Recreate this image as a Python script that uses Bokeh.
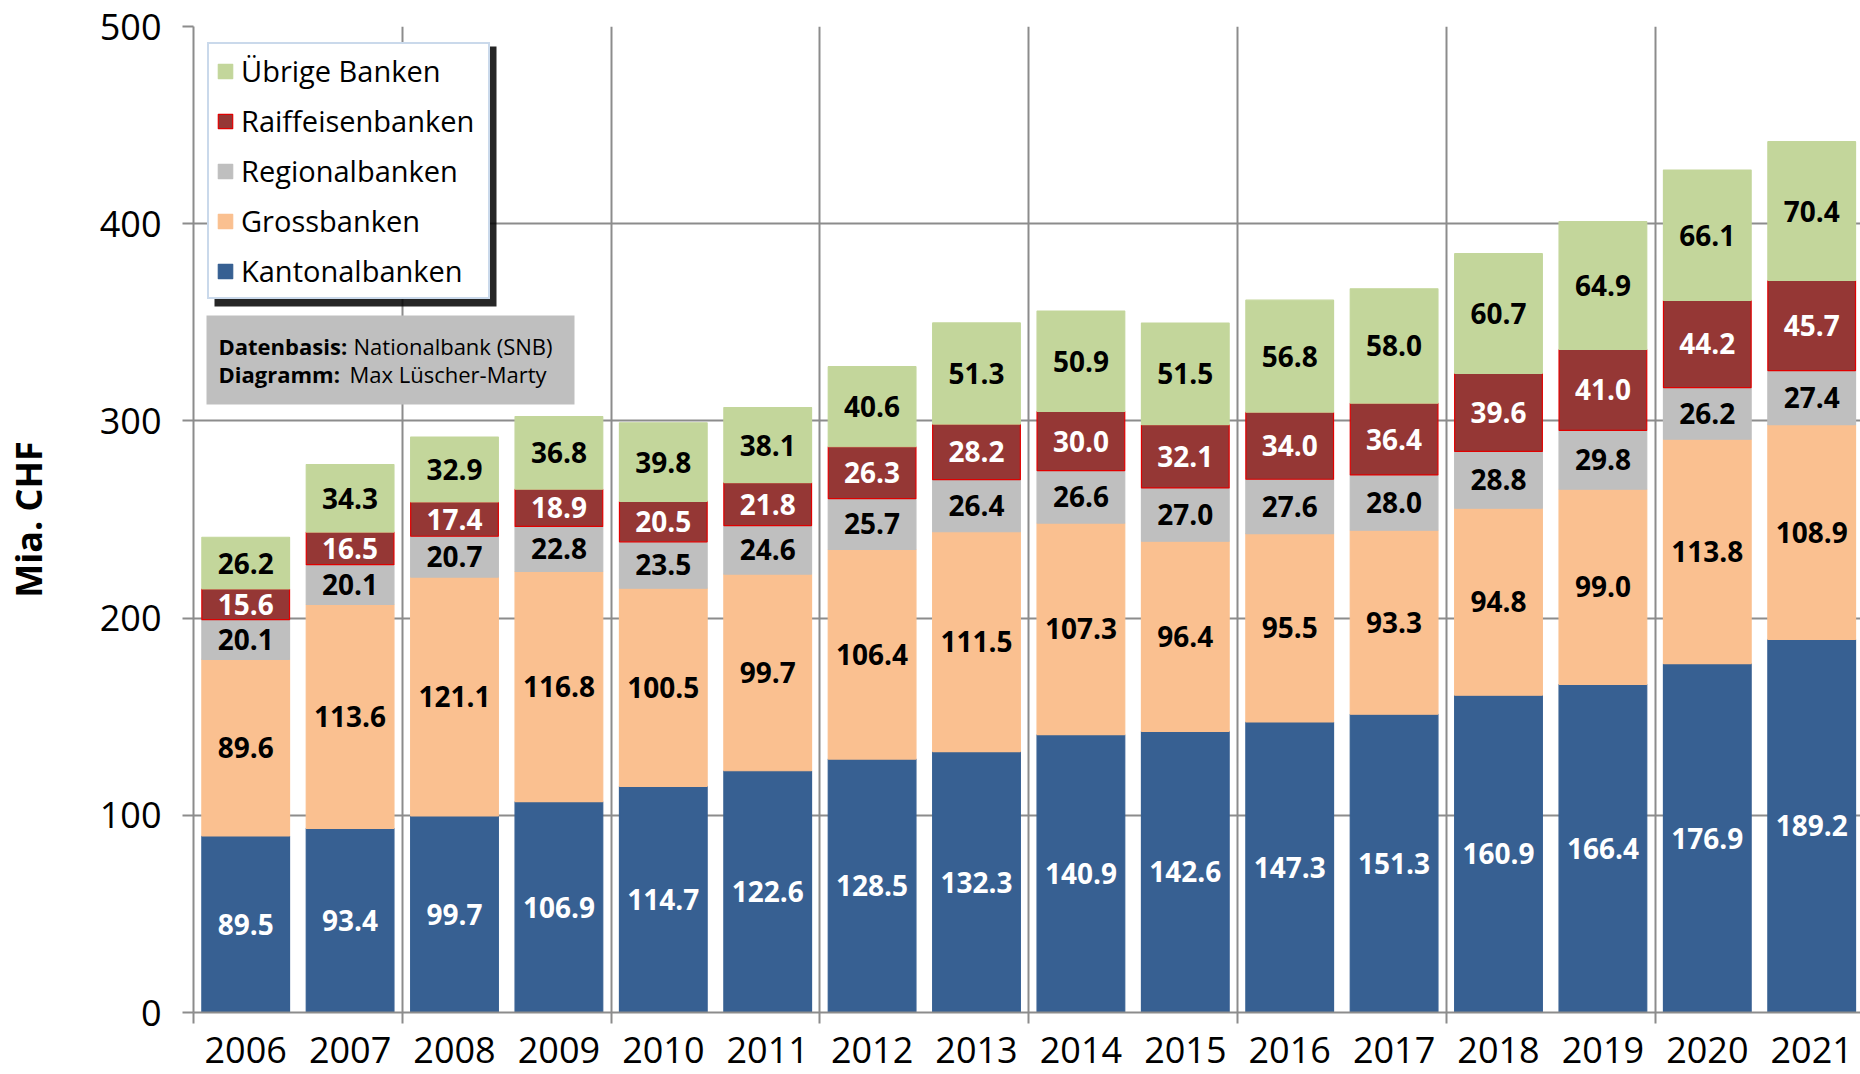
from bokeh.plotting import figure
from bokeh.models import (ColumnDataSource, FixedTicker, Range1d, Legend, LegendItem,
                          BoxAnnotation)
from bokeh.core.properties import value
from bokeh.embed import file_html
from bokeh.resources import INLINE

years = ["2006", "2007", "2008", "2009", "2010", "2011", "2012", "2013",
         "2014", "2015", "2016", "2017", "2018", "2019", "2020", "2021"]
kantonal = [89.5, 93.4, 99.7, 106.9, 114.7, 122.6, 128.5, 132.3, 140.9, 142.6, 147.3, 151.3, 160.9, 166.4, 176.9, 189.2]
gross = [89.6, 113.6, 121.1, 116.8, 100.5, 99.7, 106.4, 111.5, 107.3, 96.4, 95.5, 93.3, 94.8, 99.0, 113.8, 108.9]
regional = [20.1, 20.1, 20.7, 22.8, 23.5, 24.6, 25.7, 26.4, 26.6, 27.0, 27.6, 28.0, 28.8, 29.8, 26.2, 27.4]
raiffeisen = [15.6, 16.5, 17.4, 18.9, 20.5, 21.8, 26.3, 28.2, 30.0, 32.1, 34.0, 36.4, 39.6, 41.0, 44.2, 45.7]
uebrige = [26.2, 34.3, 32.9, 36.8, 39.8, 38.1, 40.6, 51.3, 50.9, 51.5, 56.8, 58.0, 60.7, 64.9, 66.1, 70.4]

series_names = ["Kantonalbanken", "Grossbanken", "Regionalbanken", "Raiffeisenbanken", "Übrige Banken"]
series_keys = ["kantonal", "gross", "regional", "raiffeisen", "uebrige"]
fill_colors = ["#376092", "#FAC090", "#BFBFBF", "#953735", "#C3D69B"]
line_colors = ["#376092", "#FAC090", "#BFBFBF", "#E00000", "#C3D69B"]
label_colors = ["white", "black", "black", "white", "black"]

FONT = "Open Sans"
GRID = "#8C8C8C"

xs = list(range(len(years)))
data = dict(x=xs, kantonal=kantonal, gross=gross, regional=regional,
            raiffeisen=raiffeisen, uebrige=uebrige)
source = ColumnDataSource(data)

W, H = 1860, 1074
BL, BT, BB = 193, 26, 62
FW = W - BL
FH = H - BT - BB
X0, X1 = -0.5, -0.5 + FW / 104.4
Y0, Y1 = 0, 500
PX0, PY0 = BL, BT  # page position of frame top-left

p = figure(width=W, height=H, output_backend="svg", toolbar_location=None,
           x_range=Range1d(X0, X1), y_range=Range1d(Y0, Y1),
           min_border_left=BL, min_border_right=0, min_border_top=BT,
           min_border_bottom=BB)
p.outline_line_color = None
p.background_fill_color = "white"


def px2x(px):  # page pixel -> data x
    return X0 + (px - PX0) * (X1 - X0) / FW


def px2y(py):  # page pixel -> data y
    return Y1 - (py - PY0) * (Y1 - Y0) / FH


renderers = p.vbar_stack(series_keys, x="x", width=0.84, source=source,
                         fill_color=fill_colors, line_color=line_colors,
                         line_width=1.2)

# value labels
arrays = [kantonal, gross, regional, raiffeisen, uebrige]
base = [0.0] * len(years)
for arr, col in zip(arrays, label_colors):
    mids = [b + v / 2 for b, v in zip(base, arr)]
    p.text(x=xs, y=mids, text=[f"{v:.1f}" for v in arr], text_color=col,
           text_font=value(FONT), text_font_style="bold", text_font_size="28px",
           text_align="center", text_baseline="middle")
    base = [b + v for b, v in zip(base, arr)]

# axes
p.yaxis.ticker = FixedTicker(ticks=[0, 100, 200, 300, 400, 500])
p.yaxis.axis_line_color = GRID
p.yaxis.axis_line_width = 2
p.yaxis.major_tick_line_color = GRID
p.yaxis.major_tick_line_width = 2
p.yaxis.major_tick_out = 11
p.yaxis.major_tick_in = 0
p.yaxis.minor_tick_line_color = None
p.yaxis.major_label_text_font = FONT
p.yaxis.major_label_text_font_size = "36px"
p.yaxis.major_label_text_color = "black"
p.yaxis.major_label_standoff = 21
p.yaxis.axis_label = "Mia. CHF"
p.yaxis.axis_label_text_font = FONT
p.yaxis.axis_label_text_font_style = "bold"
p.yaxis.axis_label_text_font_size = "36px"
p.yaxis.axis_label_text_color = "black"
p.yaxis.axis_label_standoff = 44

p.xaxis.ticker = FixedTicker(ticks=xs, minor_ticks=[-0.5 + 2 * k for k in range(8)])
p.xaxis.major_label_overrides = {i: y for i, y in zip(xs, years)}
p.xaxis.axis_line_color = GRID
p.xaxis.axis_line_width = 2
p.xaxis.major_tick_line_color = None
p.xaxis.major_tick_out = 0
p.xaxis.major_tick_in = 0
p.xaxis.minor_tick_line_color = GRID
p.xaxis.minor_tick_line_width = 2
p.xaxis.minor_tick_out = 11
p.xaxis.minor_tick_in = 0
p.xaxis.major_label_text_font = FONT
p.xaxis.major_label_text_font_size = "36px"
p.xaxis.major_label_text_color = "black"
p.xaxis.major_label_standoff = 13

p.xgrid.ticker = FixedTicker(ticks=[-0.5 + 2 * k for k in range(8)])
p.xgrid.grid_line_color = GRID
p.xgrid.grid_line_width = 2
p.ygrid.grid_line_color = GRID
p.ygrid.grid_line_width = 2

# legend shadow
shadow = BoxAnnotation(left=px2x(214), right=px2x(496), top=px2y(46), bottom=px2y(306),
                       fill_color="black", fill_alpha=0.85, line_color=None)
p.add_layout(shadow)

items = [LegendItem(label=n, renderers=[r]) for n, r in zip(series_names, renderers)][::-1]
legend = Legend(items=items, location=(14, 713), orientation="vertical")
legend.label_text_font = FONT
legend.label_text_font_size = "29px"
legend.label_text_color = "black"
legend.glyph_width = 18
legend.glyph_height = 18
legend.label_standoff = 7
legend.label_width = 240
legend.spacing = 11
legend.padding = 7
legend.margin = 0
legend.border_line_color = "#95B3D7"
legend.border_line_width = 2
legend.background_fill_color = "white"
legend.background_fill_alpha = 1.0
p.add_layout(legend, "center")

# info box (source / author)
p.quad(left=[px2x(206)], right=[px2x(574)], top=[px2y(315)], bottom=[px2y(404)],
       fill_color="#BFBFBF", line_color=None)
p.text(x=[px2x(218), px2x(218)], y=[px2y(345), px2y(373)],
       text=["Datenbasis:", "Diagramm:"], text_font=value(FONT), text_font_style="bold",
       text_font_size="22px", text_color="black", text_baseline="middle", text_align="left")
p.text(x=[px2x(353), px2x(349)], y=[px2y(345), px2y(373)],
       text=["Nationalbank (SNB)", "Max Lüscher-Marty"], text_font=value(FONT),
       text_font_size="22px", text_color="black", text_baseline="middle", text_align="left")

open("out.html", "w").write(file_html(p, INLINE))
